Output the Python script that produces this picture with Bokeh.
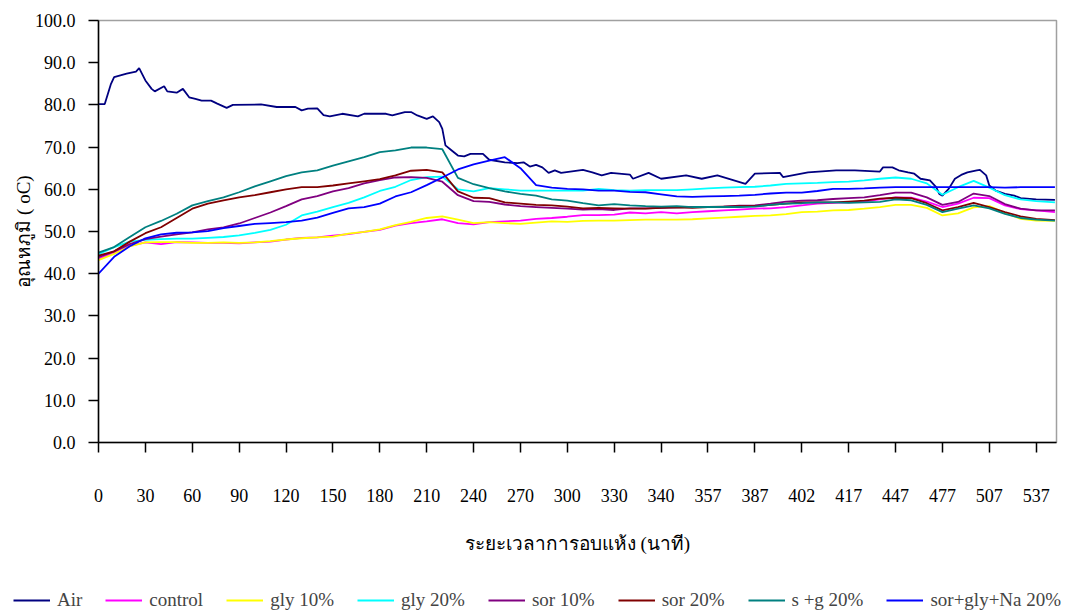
from bokeh.plotting import figure
from bokeh.layouts import column
from bokeh.models import Range1d, FixedTicker, Legend, LegendItem, PrintfTickFormatter
from bokeh.embed import file_html
from bokeh.resources import INLINE

# ---- data (category index of measurement; tick labels every 15 categories) ----
tick_idx = [0, 15, 30, 45, 60, 75, 90, 105, 120, 135, 150, 165, 180, 195, 210, 225, 240, 255, 270, 285, 300]
tick_labels = ["0", "30", "60", "90", "120", "150", "180", "210", "240", "270", "300",
               "330", "340", "357", "387", "402", "417", "447", "477", "507", "537"]

air_idx = [0, 2, 4, 5, 9, 12, 13, 15, 17, 18, 21, 22, 25, 27, 29, 31, 33, 36, 38, 41,
           43, 52, 57, 63, 65, 67, 70, 72, 74, 78, 83, 85, 92, 94, 98, 100, 102, 105, 107, 109,
           110, 111, 113, 115, 117, 119, 123, 125, 130, 134, 136, 138, 140, 142, 144, 146, 148, 155, 158, 161,
           164, 170, 171, 176, 180, 188, 193, 198, 207, 210, 218, 219, 227, 236, 242, 250, 251, 254, 256, 259,
           261, 263, 266, 268, 269, 270, 272, 274, 276, 278, 281, 282, 284, 285, 287, 290, 293, 295, 300, 306]
air = [80.2, 80.2, 85.0, 86.6, 87.4, 87.9, 88.7, 85.8, 83.8, 83.2, 84.4, 83.2, 82.9, 83.8, 81.8, 81.4, 81.0, 81.0, 80.3, 79.3,
       80.0, 80.1, 79.5, 79.5, 78.7, 79.1, 79.2, 77.6, 77.3, 77.9, 77.3, 77.9, 77.9, 77.5, 78.3, 78.3, 77.5, 76.7, 77.3, 75.9,
       74.3, 70.4, 69.2, 68.0, 67.8, 68.4, 68.4, 67.0, 66.4, 66.2, 66.4, 65.4, 65.8, 65.2, 63.9, 64.5, 63.9, 64.6, 64.0, 63.3,
       63.9, 63.5, 62.5, 63.9, 62.5, 63.3, 62.5, 63.3, 61.3, 63.7, 63.9, 62.9, 64.0, 64.5, 64.5, 64.2, 65.2, 65.2, 64.5, 64.0,
       63.7, 62.5, 62.1, 60.5, 58.9, 58.5, 60.1, 62.5, 63.4, 64.0, 64.5, 64.6, 63.3, 60.9, 59.7, 58.9, 58.5, 57.9, 57.6, 57.5]

idx = [0, 5, 10, 15, 20, 25, 30, 35, 40, 45, 50, 55, 60, 65, 70, 75, 80, 85, 90, 95,
       100, 105, 110, 115, 120, 125, 130, 135, 140, 145, 150, 155, 160, 165, 170, 175, 180, 185, 190, 195,
       200, 205, 210, 215, 220, 225, 230, 235, 240, 245, 250, 255, 260, 265, 270, 275, 280, 285, 290, 295,
       300, 306]

control = [43.5, 45.0, 46.6, 47.4, 47.0, 47.5, 47.4, 47.3, 47.3, 47.2, 47.4, 47.6, 48.1, 48.5, 48.6, 49.0, 49.4, 49.9, 50.4, 51.4,
           52.0, 52.4, 52.9, 52.0, 51.7, 52.2, 52.4, 52.6, 53.0, 53.2, 53.5, 53.9, 53.9, 54.0, 54.5, 54.3, 54.6, 54.3, 54.6, 54.8,
           55.0, 55.2, 55.4, 55.5, 55.8, 56.2, 56.6, 56.8, 56.9, 57.1, 57.6, 58.1, 58.0, 57.1, 55.8, 56.6, 58.0, 57.9, 56.2, 55.3,
           55.0, 54.6]
gly10 = [43.2, 44.7, 46.5, 47.4, 47.5, 47.5, 47.3, 47.3, 47.4, 47.3, 47.4, 47.7, 48.1, 48.4, 48.6, 48.8, 49.5, 49.9, 50.5, 51.5,
         52.3, 53.2, 53.6, 52.8, 52.0, 52.2, 52.0, 51.8, 52.1, 52.4, 52.3, 52.5, 52.6, 52.6, 52.7, 52.8, 52.8, 52.8, 52.9, 53.1,
         53.3, 53.5, 53.7, 53.8, 54.1, 54.6, 54.7, 55.0, 55.1, 55.4, 55.8, 56.3, 56.3, 55.6, 53.8, 54.3, 55.7, 56.0, 54.4, 53.0,
         52.6, 52.5]
gly20 = [44.6, 46.3, 47.6, 48.0, 48.2, 48.3, 48.3, 48.5, 48.7, 49.1, 49.7, 50.4, 51.6, 53.8, 54.7, 55.8, 56.8, 58.1, 59.6, 60.6,
         62.2, 62.9, 63.0, 60.0, 59.5, 60.3, 60.0, 59.7, 59.7, 59.7, 59.7, 59.7, 60.1, 59.8, 59.7, 59.8, 59.8, 59.8, 60.0, 60.2,
         60.4, 60.5, 60.6, 60.9, 61.3, 61.4, 61.5, 61.7, 61.8, 62.1, 62.5, 62.8, 62.5, 61.4, 58.7, 60.5, 62.0, 60.4, 58.6, 57.6,
         57.2, 56.9]
sor10 = [43.9, 45.3, 47.0, 48.2, 48.8, 49.3, 49.8, 50.5, 51.0, 51.9, 53.2, 54.5, 56.0, 57.6, 58.4, 59.5, 60.3, 61.4, 62.2, 62.8,
         62.9, 62.7, 61.8, 58.6, 57.2, 57.0, 56.4, 56.0, 55.8, 55.6, 55.4, 55.2, 55.3, 55.1, 55.5, 55.5, 55.6, 55.7, 55.8, 55.8,
         55.9, 56.1, 56.2, 56.6, 57.1, 57.3, 57.4, 57.7, 57.9, 58.1, 58.6, 59.2, 59.2, 58.1, 56.3, 57.0, 59.0, 58.4, 56.5, 55.4,
         55.0, 55.0]
sor20 = [44.3, 45.3, 47.6, 49.6, 51.0, 53.2, 55.4, 56.6, 57.4, 58.1, 58.6, 59.3, 60.0, 60.5, 60.5, 60.9, 61.4, 61.9, 62.4, 63.3,
         64.4, 64.6, 64.0, 59.5, 58.0, 57.9, 56.9, 56.6, 56.3, 56.2, 55.9, 55.5, 55.6, 55.5, 55.4, 55.4, 55.6, 55.7, 55.6, 55.8,
         55.9, 56.0, 56.0, 56.3, 56.6, 56.9, 56.9, 56.9, 57.1, 57.3, 57.8, 58.0, 57.9, 56.7, 55.0, 55.8, 56.8, 55.8, 54.6, 53.6,
         53.0, 52.7]
sg20 = [45.0, 46.3, 48.7, 51.0, 52.5, 54.2, 56.2, 57.2, 58.1, 59.3, 60.7, 61.9, 63.1, 64.0, 64.5, 65.6, 66.6, 67.6, 68.8, 69.2,
        69.9, 69.9, 69.5, 62.7, 61.2, 60.3, 59.5, 58.9, 58.5, 57.6, 57.3, 56.7, 56.2, 56.5, 56.2, 56.0, 55.9, 56.0, 55.8, 55.8,
        55.8, 55.8, 55.9, 56.3, 56.6, 56.7, 56.9, 56.9, 56.8, 56.9, 57.0, 57.6, 57.4, 56.3, 54.6, 55.4, 56.2, 55.5, 54.2, 53.2,
        52.8, 52.6]
sgn20 = [40.0, 44.0, 46.5, 48.4, 49.3, 49.7, 49.8, 50.1, 50.8, 51.3, 51.8, 52.0, 52.2, 52.6, 53.3, 54.4, 55.5, 55.8, 56.6, 58.3,
         59.3, 61.0, 62.8, 64.7, 65.9, 66.8, 67.6, 65.0, 61.0, 60.4, 60.1, 60.0, 59.7, 59.7, 59.4, 59.3, 58.8, 58.3, 58.2, 58.3,
         58.4, 58.5, 58.7, 59.0, 59.2, 59.2, 59.6, 60.1, 60.1, 60.2, 60.4, 60.5, 60.5, 60.5, 60.5, 60.5, 60.5, 60.5, 60.4, 60.5,
         60.5, 60.5]

series_names = ["Air", "control", "gly 10%", "gly 20%", "sor 10%", "sor 20%", "s +g 20%", "sor+gly+Na 20%"]
series_colors = ["#000080", "#FF00FF", "#FFFF00", "#00FFFF", "#800080", "#800000", "#008080", "#0000FF"]
series_x = [air_idx, idx, idx, idx, idx, idx, idx, idx]
series_y = [air, control, gly10, gly20, sor10, sor20, sg20, sgn20]

FONT = "Liberation Serif"
LINE_W = 1.8

# ---------------- main chart ----------------
p = figure(width=1068, height=586, output_backend="svg", toolbar_location=None,
           x_range=Range1d(0, 306.5), y_range=Range1d(0, 100),
           min_border_left=98, min_border_right=12, min_border_top=20, min_border_bottom=144)
p.background_fill_color = "white"
p.border_fill_color = "white"
p.outline_line_color = "#a0a0a0"
p.outline_line_width = 1.5
p.xgrid.visible = False
p.ygrid.visible = False

for col, xs, ys in zip(series_colors, series_x, series_y):
    p.line(xs, ys, line_color=col, line_width=LINE_W)

xa = p.xaxis[0]
xa.ticker = FixedTicker(ticks=tick_idx)
xa.major_label_overrides = {t: l for t, l in zip(tick_idx, tick_labels)}
xa.minor_tick_line_color = None
xa.major_tick_out = 10
xa.major_tick_in = 0
xa.axis_line_color = "black"
xa.axis_line_width = 1.5
xa.major_tick_line_color = "black"
xa.major_tick_line_width = 1.5
xa.major_label_text_font = FONT
xa.major_label_text_font_size = "18px"
xa.major_label_text_color = "black"
xa.major_label_standoff = 36
xa.axis_label = "ระยะเวลาการอบแห้ง (นาที)"
xa.axis_label_text_font = FONT
xa.axis_label_text_font_size = "19px"
xa.axis_label_text_font_style = "normal"
xa.axis_label_text_color = "black"
xa.axis_label_standoff = 28

ya = p.yaxis[0]
ya.ticker = FixedTicker(ticks=[0, 10, 20, 30, 40, 50, 60, 70, 80, 90, 100])
ya.formatter = PrintfTickFormatter(format="%.1f")
ya.minor_tick_line_color = None
ya.major_tick_out = 10
ya.major_tick_in = 0
ya.axis_line_color = "black"
ya.axis_line_width = 1.5
ya.major_tick_line_color = "black"
ya.major_tick_line_width = 1.5
ya.major_label_text_font = FONT
ya.major_label_text_font_size = "18px"
ya.major_label_text_color = "black"
ya.major_label_standoff = 13
ya.axis_label = "อุณหภูมิ ( oC)"
ya.axis_label_text_font = FONT
ya.axis_label_text_font_size = "19px"
ya.axis_label_text_font_style = "normal"
ya.axis_label_text_color = "black"
ya.axis_label_standoff = -2

# ---------------- legend strip (same series, drawn outside its view; only its legend shows) ----------------
q = figure(width=1068, height=26, frame_width=1068, frame_height=26,
           output_backend="svg", toolbar_location=None,
           x_axis_location=None, y_axis_location=None,
           x_range=Range1d(-2000, -1000), y_range=Range1d(-2000, -1000),
           min_border_left=0, min_border_right=0, min_border_top=0, min_border_bottom=0)
q.outline_line_color = None
q.xgrid.visible = False
q.ygrid.visible = False
q.background_fill_color = "white"
q.border_fill_color = "white"

items = []
for name, col, xs, ys in zip(series_names, series_colors, series_x, series_y):
    r = q.line(xs, ys, line_color=col, line_width=LINE_W)
    items.append(LegendItem(label=name, renderers=[r]))

legend = Legend(items=items, orientation="horizontal", location=(13, 1),
                padding=0, margin=0, spacing=23, glyph_width=37, glyph_height=20,
                label_standoff=7, label_height=20,
                label_text_font=FONT, label_text_font_size="19px",
                border_line_color=None, background_fill_alpha=0)
q.add_layout(legend, "center")

layout = column(p, q, spacing=0)
open("out.html", "w").write(file_html(layout, INLINE))
